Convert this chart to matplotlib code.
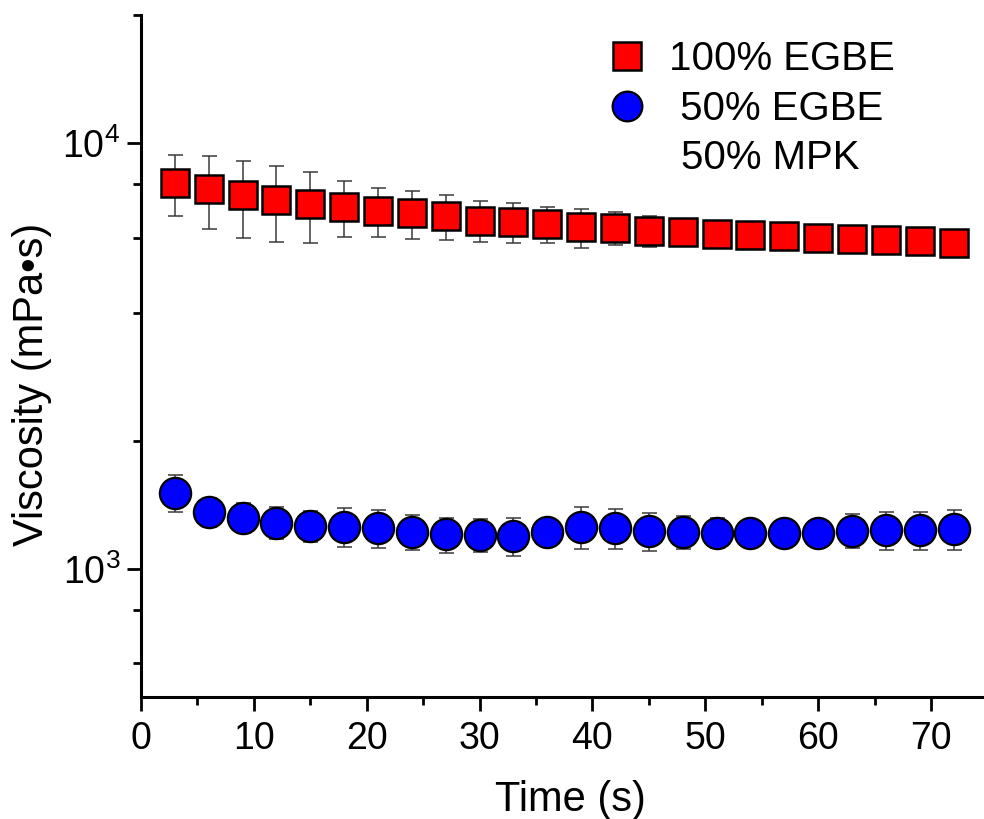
import numpy as np
import matplotlib
matplotlib.use("Agg")
import matplotlib.pyplot as plt
from matplotlib.ticker import LogLocator, MultipleLocator, NullFormatter

plt.rcParams["font.family"] = ["Liberation Sans", "DejaVu Sans"]
plt.rcParams["mathtext.default"] = "regular"

# time points (s)
time_s = [3, 6, 9, 12, 15, 18, 21, 24, 27, 30, 33, 36,
          39, 42, 45, 48, 51, 54, 57, 60, 63, 66, 69, 72]

# 100% EGBE viscosity (mPa s) and error
egbe100 = [8060, 7790, 7540, 7350, 7200, 7090, 6930, 6840, 6730, 6580, 6520, 6450,
           6340, 6330, 6220, 6180, 6115, 6080, 6048, 5983, 5950, 5919, 5888, 5825]
egbe100_err = [1330, 1520, 1550, 1500, 1360, 1075, 900, 870, 810, 727, 707, 636,
               660, 553, 520, 440, 400, 380, 300, 250, 200, 200, 180, 150]

# 50% EGBE / 50% MPK viscosity (mPa s) and error
mix50 = [1510, 1363, 1320, 1284, 1262, 1257, 1246, 1223, 1206, 1202, 1195, 1223,
         1257, 1246, 1228, 1223, 1217, 1217, 1213, 1213, 1230, 1235, 1235, 1241]
mix50_err = [148, 107, 107, 110, 108, 133, 126, 115, 114, 104, 121, 60,
             144, 135, 127, 111, 100, 88, 88, 80, 112, 125, 125, 133]

W, H = 984, 819
fig = plt.figure(figsize=(W / 100, H / 100), dpi=100)
ax = fig.add_axes([141 / W, 1 - 697 / H, (W - 141) / W, (697 - 15) / H])

err_kw = dict(ecolor="#3a3a3a", elinewidth=1.1, capsize=5.4, capthick=1.1, zorder=1)
ax.errorbar(time_s, egbe100, yerr=egbe100_err, fmt="none", **err_kw)
ax.errorbar(time_s, mix50, yerr=mix50_err, fmt="none", **err_kw)

sq, = ax.plot(time_s, egbe100, ls="none", marker="s", ms=20.5, mfc="#ff0000",
              mec="black", mew=1.8, zorder=3, label="100% EGBE")
ci, = ax.plot(time_s, mix50, ls="none", marker="o", ms=22.5, mfc="#0000ff",
              mec="black", mew=1.6, zorder=3, label=" 50% EGBE")

ax.set_yscale("log")
ax.set_xlim(0, 74.7)
ax.set_ylim(500, 20000)

ax.xaxis.set_major_locator(MultipleLocator(10))
ax.xaxis.set_minor_locator(MultipleLocator(5))
ax.yaxis.set_major_locator(LogLocator(base=10, numticks=10))
ax.yaxis.set_minor_locator(LogLocator(base=10, subs=(2, 4, 6, 8), numticks=10))
ax.yaxis.set_minor_formatter(NullFormatter())

for s in ["top", "right"]:
    ax.spines[s].set_visible(False)
for s in ["left", "bottom"]:
    ax.spines[s].set_linewidth(2.2)

ax.tick_params(which="major", direction="out", length=10, width=2.0,
               labelsize=27, pad=7)
ax.tick_params(axis="y", which="major", pad=5)
ax.tick_params(which="minor", direction="out", length=5.5, width=2.0)

ax.set_xlabel("Time (s)", fontsize=30)
ax.xaxis.set_label_coords((570 - 141) / 843, -0.121)
ax.set_ylabel("Viscosity (mPa\u2022s)", fontsize=30)
ax.yaxis.set_label_coords(-0.106, (697 - 384) / 682)

leg = ax.legend(handles=[sq, ci], loc="upper left",
                bbox_to_anchor=(603 / W, 1 - 40 / H), bbox_transform=fig.transFigure,
                frameon=False, fontsize=29, markerscale=0.95, handlelength=1.2,
                handletextpad=0.45, labelspacing=0.3, borderpad=0, borderaxespad=0)
fig.text(681 / W, 1 - 158 / H, "50% MPK", fontsize=29, ha="left", va="center")

fig.savefig("out.png", dpi=100)
